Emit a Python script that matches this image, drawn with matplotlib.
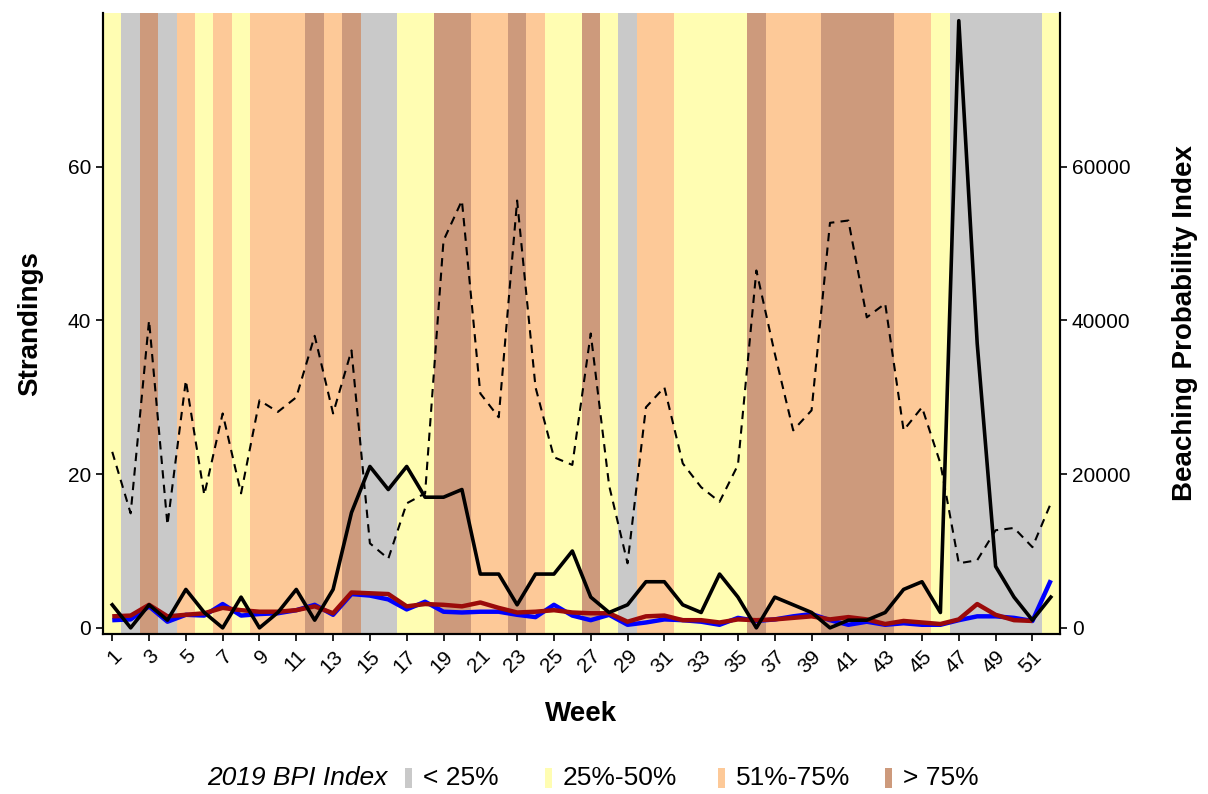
import numpy as np
import matplotlib
matplotlib.use("Agg")
import matplotlib.pyplot as plt
from matplotlib.patches import Rectangle

plt.rcParams['font.family'] = ['Liberation Sans', 'DejaVu Sans']

weeks = list(range(1, 53))

# BPI category per week: G (<25%), Y (25%-50%), O (51%-75%), B (>75%)
bpi_category = ['Y', 'G', 'B', 'G', 'O', 'Y', 'O', 'Y', 'O', 'O',
                'O', 'B', 'O', 'B', 'G', 'G', 'Y', 'Y', 'B', 'B',
                'O', 'O', 'B', 'O', 'Y', 'Y', 'B', 'Y', 'G', 'O',
                'O', 'Y', 'Y', 'Y', 'Y', 'B', 'O', 'O', 'O', 'B',
                'B', 'B', 'B', 'O', 'O', 'Y', 'G', 'G', 'G', 'G',
                'G', 'Y']

# Beaching Probability Index (right axis)
bpi = [22900, 14900, 40000, 13400, 32200, 17300, 27900, 17500, 29600, 28100,
       30000, 38000, 27900, 36100, 11000, 9000, 16200, 17500, 50400, 55600,
       30500, 27400, 55600, 31300, 22200, 21200, 38300, 18500, 8400, 28700,
       31300, 21400, 18300, 16400, 21200, 46500, 35700, 25700, 28300, 52700,
       53000, 40400, 42200, 25700, 28700, 21400, 8400, 8800, 12700, 13000,
       10500, 16200]

# Strandings (left axis)
strandings_total = [3, 0, 3, 1, 5, 2, 0, 4, 0, 2,
                    5, 1, 5, 15, 21, 18, 21, 17, 17, 18,
                    7, 7, 3, 7, 7, 10, 4, 2, 3, 6,
                    6, 3, 2, 7, 4, 0, 4, 3, 2, 0,
                    1, 1, 2, 5, 6, 2, 79, 37, 8, 4,
                    1, 4]

strandings_blue = [1.0, 1.1, 2.8, 0.8, 1.7, 1.6, 3.1, 1.6, 1.8, 1.9,
                   2.3, 3.0, 1.7, 4.4, 4.2, 3.7, 2.4, 3.4, 2.1, 2.0,
                   2.1, 2.1, 1.7, 1.4, 3.0, 1.6, 1.0, 1.7, 0.4, 0.7,
                   1.1, 1.0, 0.8, 0.4, 1.3, 0.9, 1.1, 1.5, 1.8, 1.0,
                   0.4, 0.8, 0.4, 0.6, 0.4, 0.4, 1.0, 1.5, 1.5, 1.3,
                   0.9, 6.2]

strandings_red = [1.5, 1.6, 3.0, 1.5, 1.7, 1.9, 2.6, 2.3, 2.1, 2.1,
                  2.3, 2.8, 1.9, 4.6, 4.5, 4.4, 2.8, 3.1, 3.0, 2.8,
                  3.3, 2.6, 2.0, 2.1, 2.3, 2.0, 1.9, 1.9, 0.8, 1.5,
                  1.6, 1.0, 1.0, 0.7, 1.1, 1.0, 1.1, 1.3, 1.5, 1.1,
                  1.4, 1.1, 0.5, 0.9, 0.7, 0.5, 1.1, 3.1, 1.7, 1.0,
                  0.9, np.nan]

cat_colors = {'G': '#C9C9C9', 'Y': '#FFFDB2', 'O': '#FDC998', 'B': '#CD9A7C'}
legend_labels = [('G', '< 25%'), ('Y', '25%-50%'), ('O', '51%-75%'), ('B', '> 75%')]

fig = plt.figure(figsize=(12.08, 7.94), dpi=100)
ax = fig.add_axes([0.0853, 0.2015, 0.7922, 0.7821])
ax2 = ax.twinx()

# bands on ax2 (behind), lines on ax (front)
for w, c in zip(weeks, bpi_category):
    ax2.axvspan(w - 0.5, w + 0.5, color=cat_colors[c], lw=0, zorder=0)

ax2.plot(weeks, bpi, color='black', lw=1.5, ls=(0, (4, 3)), zorder=2)

ax.set_zorder(ax2.get_zorder() + 1)
ax.patch.set_visible(False)

ax.plot(weeks, strandings_blue, color='#0000FF', lw=3.2, solid_capstyle='butt', zorder=3)
ax.plot(weeks, strandings_red, color='#9B0A0A', lw=3.2, solid_capstyle='butt', zorder=4)
ax.plot(weeks, strandings_total, color='black', lw=2.6, zorder=5)

ax.set_xlim(0.5, 52.5)
ax.set_ylim(-0.8, 80)
ax2.set_ylim(-800, 80000)

ax.set_yticks([0, 20, 40, 60])
ax2.set_yticks([0, 20000, 40000, 60000])
ax.set_xticks(list(range(1, 53, 2)))
ax.set_xticklabels([str(w) for w in range(1, 53, 2)], rotation=45, ha='right',
                   rotation_mode='anchor', fontsize=15)
ax.tick_params(axis='y', labelsize=15, length=5, width=1.2, colors='black')
ax.tick_params(axis='x', length=5, width=1.2, pad=4)
ax2.tick_params(axis='y', labelsize=15, length=5, width=1.2)

for a in (ax, ax2):
    a.spines['top'].set_visible(False)
    for s in ('left', 'right', 'bottom'):
        a.spines[s].set_linewidth(1.5)
        a.spines[s].set_color('black')

ax.set_ylabel('Strandings', fontsize=20, fontweight='bold', labelpad=18)
ax2.set_ylabel('Beaching Probability Index', fontsize=20, fontweight='bold', labelpad=30)
ax.set_xlabel('Week', fontsize=20, fontweight='bold', labelpad=18)

# legend at bottom (manual)
ly = 1 - 778 / 794
fig.text(207 / 1208, ly, '2019 BPI Index', fontsize=19, style='italic', va='center', ha='left')
key_x = [405, 545, 718, 885]
for (c, lab), kx in zip(legend_labels, key_x):
    fig.patches.append(Rectangle((kx / 1208, ly - 10 / 794), 7 / 1208, 20 / 794,
                                 transform=fig.transFigure, color=cat_colors[c], lw=0))
    fig.text((kx + 18) / 1208, ly, lab, fontsize=19, va='center', ha='left')

fig.savefig('out.png', dpi=100)
